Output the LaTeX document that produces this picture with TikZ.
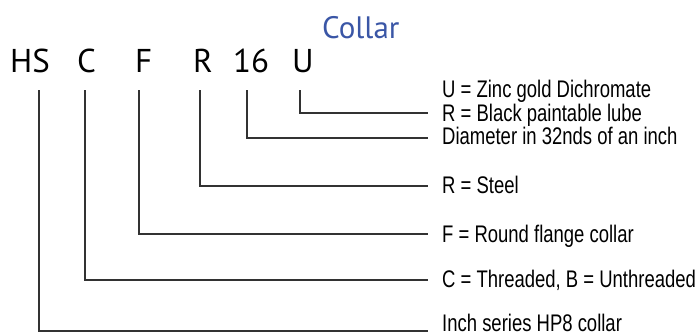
\documentclass[tikz,border=0pt]{standalone}
\usepackage{fontspec}
\setmainfont{PT Sans}
\newfontfamily\labelfont[FakeStretch=0.77]{Liberation Sans}
\definecolor{titleblue}{RGB}{58,86,166}
\definecolor{linegray}{RGB}{50,50,50}
\tikzset{
  codetext/.style={font=\fontsize{33}{33}\selectfont, anchor=base west, inner sep=0pt},
  lbl/.style={font=\labelfont\fontsize{24}{24}\selectfont, anchor=base west, inner sep=0pt},
  conn/.style={draw=linegray, line width=1.3pt, line join=miter}
}
\begin{document}
\begin{tikzpicture}[x=1pt,y=-1pt]
\useasboundingbox (0,0) rectangle (698,333);
% title
\node[font=\fontsize{31}{31}\selectfont, text=titleblue, anchor=base west, inner sep=0pt] (title) at (322,38) {Collar};
% code letters
\node[codetext] (hs) at (10,72) {HS};
\node[codetext] (c) at (77,72) {C};
\node[codetext] (f) at (135,72) {F};
\node[codetext] (r) at (193,72) {R};
\node[codetext] (sixteen) at (233,72) {16};
\node[codetext] (u) at (292,72) {U};
% labels
\node[lbl] (lu) at (442,97) {U = Zinc gold Dichromate};
\node[lbl] (lr) at (442,121) {R = Black paintable lube};
\node[lbl] (ld) at (442,144) {Diameter in 32nds of an inch};
\node[lbl] (ls) at (442,193) {R = Steel};
\node[lbl] (lf) at (442,242) {F = Round flange collar};
\node[lbl] (lc) at (442,287) {C = Threaded, B = Unthreaded};
\node[lbl] (li) at (442,331) {Inch series HP8 collar};
% connector start points (below letters) and end points (before labels)
\coordinate (hs0) at (39,90);   \coordinate (hs1) at (428,331);
\coordinate (c0) at (85,90);    \coordinate (c1) at (428,280);
\coordinate (f0) at (139,90);   \coordinate (f1) at (428,234);
\coordinate (r0) at (200,90);   \coordinate (r1) at (428,186);
\coordinate (s0) at (247,90);   \coordinate (s1) at (428,138);
\coordinate (u0) at (300,90);   \coordinate (u1) at (428,113);
\draw[conn] (hs0) |- (hs1);
\draw[conn] (c0) |- (c1);
\draw[conn] (f0) |- (f1);
\draw[conn] (r0) |- (r1);
\draw[conn] (s0) |- (s1);
\draw[conn] (u0) |- (u1);
\end{tikzpicture}
\end{document}
